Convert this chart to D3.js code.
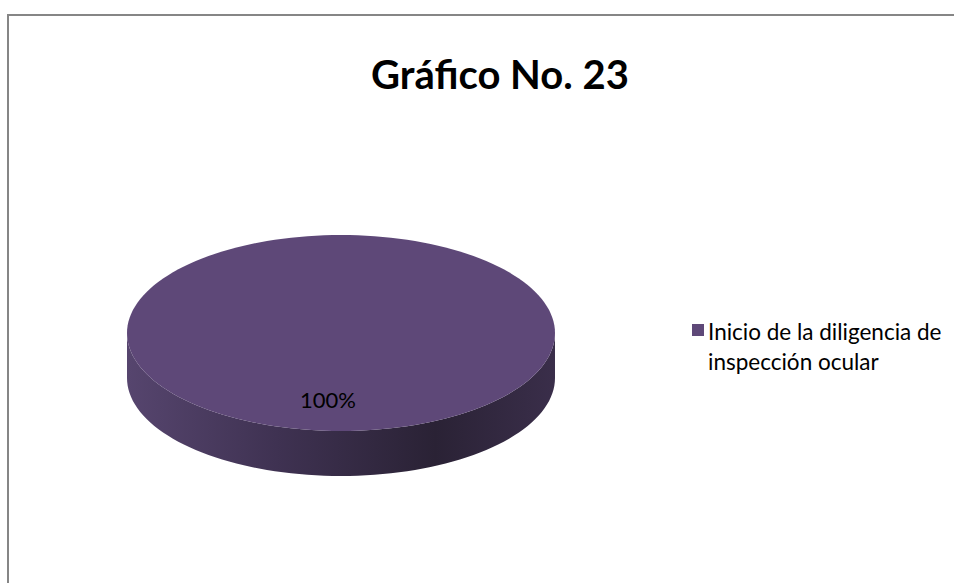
<!DOCTYPE html>
<html><head><meta charset="utf-8">
<script src="https://cdn.jsdelivr.net/npm/d3@7"></script>
<style>body{margin:0;background:#fff;}svg{display:block;}</style>
</head><body>
<svg id="c" width="954" height="583"></svg>
<script>
const title = "Gráfico No. 23";
const categories = ["Inicio de la diligencia de inspección ocular"];
const legendLines = [["Inicio de la diligencia de", "inspección ocular"]];
const values = [100];
const labels = ["100%"];
const colors = ["#5e4878"];

const svg = d3.select("#c");
const W = 954, H = 583;
svg.append("rect").attr("x", 8).attr("y", 15).attr("width", W + 10).attr("height", H + 10)
  .attr("fill", "#fff").attr("stroke", "#868686").attr("stroke-width", 2);

svg.append("text").attr("x", 500).attr("y", 89).attr("text-anchor", "middle")
  .attr("font-family", "Lato, 'Open Sans', sans-serif").attr("font-weight", "bold")
  .attr("font-size", 40).attr("fill", "#000").text(title);

const cx = 341, cy = 333, rx = 214, ry = 98, depth = 45;
const pie = d3.pie().sort(null).value(d => d)(values);
const pt = (a, dy) => [cx + rx * Math.sin(a), cy - ry * Math.cos(a) + dy];

const defs = svg.append("defs");
const grad = defs.append("linearGradient").attr("id", "side").attr("gradientUnits", "userSpaceOnUse")
  .attr("x1", cx - rx).attr("x2", cx + rx).attr("y1", 0).attr("y2", 0);
[[0, "#56456e"], [0.35, "#3f3252"], [0.72, "#2a2235"], [1, "#3a2e4a"]].forEach(([o, c]) =>
  grad.append("stop").attr("offset", o).attr("stop-color", c));

const g = svg.append("g");
pie.forEach((s, i) => {
  const a0 = Math.max(s.startAngle, Math.PI / 2), a1 = Math.min(s.endAngle, 3 * Math.PI / 2);
  if (a1 <= a0) return;
  const n = 80, top = [], bot = [];
  for (let k = 0; k <= n; k++) {
    const a = a0 + (a1 - a0) * k / n;
    top.push(pt(a, 0)); bot.push(pt(a, depth));
  }
  g.append("path").attr("d", d3.line()(top.concat(bot.reverse())) + "Z").attr("fill", "url(#side)");
});
pie.forEach((s, i) => {
  const n = 160, pts = [];
  for (let k = 0; k <= n; k++) pts.push(pt(s.startAngle + (s.endAngle - s.startAngle) * k / n, 0));
  const full = s.endAngle - s.startAngle >= 2 * Math.PI - 1e-6;
  const d = full ? d3.line()(pts) + "Z" : "M" + cx + "," + cy + "L" + d3.line()(pts).slice(1) + "Z";
  g.append("path").attr("d", d).attr("fill", colors[i]);
});
pie.forEach((s, i) => {
  const mid = (s.startAngle + s.endAngle) / 2;
  const p = pt(mid, 0);
  const lx = cx + (p[0] - cx) * 0.7 - 13, ly = cy + (p[1] - cy) * 0.7 + 6;
  g.append("text").attr("x", lx).attr("y", ly).attr("text-anchor", "middle")
    .attr("font-family", "Lato, 'Open Sans', sans-serif").attr("font-size", 22).attr("fill", "#000").text(labels[i]);
});
const lg = svg.append("g");
categories.forEach((c, i) => {
  lg.append("rect").attr("x", 692).attr("y", 324 + i * 60).attr("width", 12).attr("height", 12).attr("fill", colors[i]);
  legendLines[i].forEach((t, j) => {
    lg.append("text").attr("x", 708).attr("y", 340 + j * 30 + i * 60)
      .attr("font-family", "Lato, 'Open Sans', sans-serif").attr("font-size", 22.5).attr("fill", "#000").text(t);
  });
});
</script>
</body></html>
